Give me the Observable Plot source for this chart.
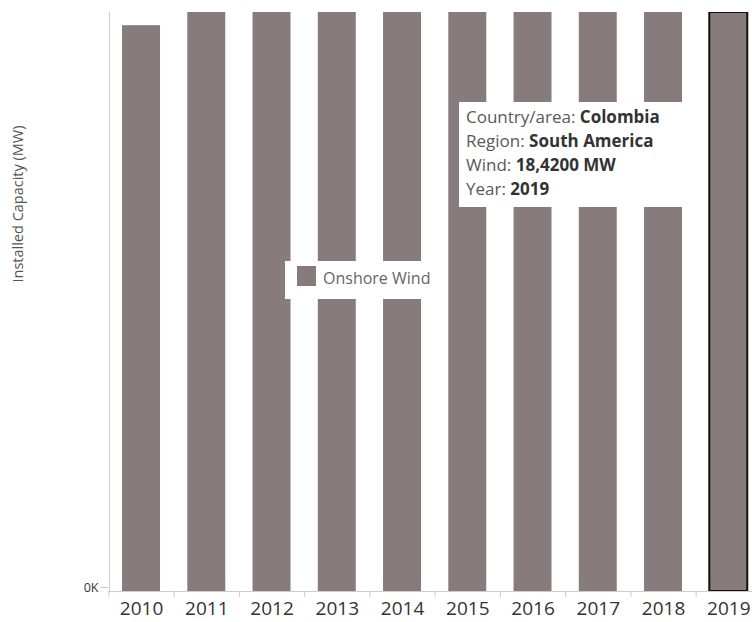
<!DOCTYPE html>
<html><head><meta charset="utf-8">
<script src="https://cdn.jsdelivr.net/npm/d3@7"></script>
<script src="https://cdn.jsdelivr.net/npm/@observablehq/plot@0.6"></script>
<style>
html,body{margin:0;padding:0;background:#fff;overflow:hidden;width:752px;height:622px;}
#wrap{position:relative;width:752px;height:622px;overflow:hidden;font-family:"Open Sans",sans-serif;}
.tip{position:absolute;left:459px;top:102px;width:228px;height:105px;background:#fff;color:#595959;font-size:17px;line-height:24px;padding:3px 0 0 7px;box-sizing:border-box;white-space:nowrap;}
.tip b{color:#333;font-weight:700;}
.leg{position:absolute;left:285px;top:261px;width:155px;height:38px;background:#fff;}
.leg .sw{position:absolute;left:12px;top:5px;width:19px;height:20px;}
.leg .t{position:absolute;left:38px;top:7px;font-size:16px;color:#666;line-height:20px;}
.ylab{position:absolute;left:17px;top:204px;transform:translate(-50%,-50%) rotate(-90deg);font-size:14.5px;color:#555;white-space:nowrap;}
</style></head>
<body><div id="wrap"></div>
<script>
const years = ["2010","2011","2012","2013","2014","2015","2016","2017","2018","2019"];
const capacity = [18.0, 18.42, 18.42, 18.42, 18.42, 18.42, 18.42, 18.42, 18.42, 18.42];
const highlightYear = "2019";
const seriesName = "Onshore Wind";
const yLabel = "Installed Capacity (MW)";
const tipLines = [["Country/area","Colombia"],["Region","South America"],["Wind","18,4200 MW"],["Year","2019"]];
const barColor = "#877b7d";

const data = years.map((y,i)=>({year:y, value:capacity[i]}));
const x0 = 108.4, step = 65.25;

const chart = Plot.plot({
  width: 752, height: 622,
  marginLeft: 108, marginRight: 0, marginTop: 12, marginBottom: 31,
  style: {fontFamily: "'Open Sans', sans-serif", background: "#fff"},
  x: {domain: years, range: [x0, x0 + step*years.length], paddingInner: 0.418, paddingOuter: 0.209, round: false, label: null},
  y: {domain: [0, 18.42], label: null},
  marks: [
    Plot.barY(data, {x: "year", y: "value", fill: barColor, clip: true}),
    Plot.barY(data.filter(d=>d.year===highlightYear), {x:"year", y:"value", fill:"none", stroke:"#111", strokeWidth:2, clip:true}),
    Plot.ruleY([0], {stroke: "#ccc"}),
    Plot.ruleX([years[0]], {dx: -step/2 + 0.5, stroke:"#ccc"}),
    Plot.axisX({tickSize: 6, tickFormat: () => "", dx: -step/2, stroke: "#ccc"}),
    Plot.axisX({tickSize: 0, tickPadding: 10, fontSize: 19, color: "#333"}),
    Plot.axisY({ticks: [0], tickFormat: () => "0K", tickSize: 8, fontSize: 12.5, color: "#333", stroke:"#ccc", tickPadding: 2, dy: -4})
  ]
});
const wrap = document.getElementById("wrap");
wrap.appendChild(chart);

const lab = document.createElement("div"); lab.className="ylab"; lab.textContent=yLabel; wrap.appendChild(lab);
const leg = document.createElement("div"); leg.className="leg";
leg.innerHTML = `<div class="sw" style="background:${barColor}"></div><div class="t">${seriesName}</div>`;
wrap.appendChild(leg);
const tip = document.createElement("div"); tip.className="tip";
tip.innerHTML = tipLines.map(([k,v])=>`<div>${k}: <b>${v}</b></div>`).join("");
wrap.appendChild(tip);
</script></body></html>
